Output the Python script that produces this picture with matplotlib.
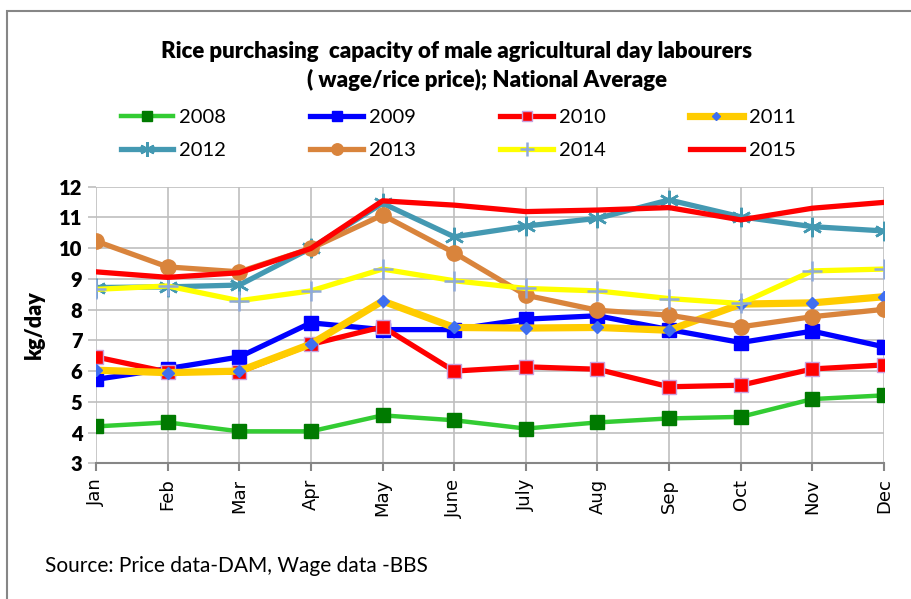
import matplotlib.pyplot as plt
from matplotlib.patches import Rectangle

months = ["Jan", "Feb", "Mar", "Apr", "May", "June", "July", "Aug", "Sep", "Oct", "Nov", "Dec"]

y2008 = [4.20, 4.33, 4.04, 4.04, 4.56, 4.40, 4.13, 4.33, 4.46, 4.51, 5.09, 5.21]
y2009 = [5.73, 6.08, 6.46, 7.57, 7.35, 7.35, 7.69, 7.80, 7.35, 6.93, 7.30, 6.79]
y2010 = [6.46, 5.97, 5.97, 6.87, 7.44, 6.00, 6.14, 6.06, 5.49, 5.54, 6.07, 6.20]
y2011 = [6.03, 5.95, 6.00, 6.88, 8.28, 7.42, 7.40, 7.42, 7.33, 8.18, 8.22, 8.42]
y2012 = [8.72, 8.74, 8.80, 10.00, 11.46, 10.37, 10.72, 10.97, 11.57, 11.02, 10.70, 10.56]
y2013 = [10.23, 9.39, 9.23, 9.99, 11.08, 9.85, 8.47, 7.98, 7.82, 7.44, 7.77, 8.01]
y2014 = [8.66, 8.77, 8.29, 8.61, 9.32, 8.94, 8.69, 8.61, 8.36, 8.20, 9.26, 9.32]
y2015 = [9.23, 9.05, 9.20, 9.99, 11.54, 11.40, 11.19, 11.24, 11.32, 10.92, 11.30, 11.49]

txt_font = ["Lato", "DejaVu Sans"]

fig = plt.figure(figsize=(9.11, 5.99), dpi=100)
ax = fig.add_axes([96 / 911, 1 - 463.3 / 599, 788 / 911, 276.6 / 599])

x = list(range(len(months)))

ax.plot(x, y2008, color="#33CC33", lw=3.2, marker="s", ms=9.5,
        mfc="#007A00", mec="#007A00", label="2008")
ax.plot(x, y2009, color="#0000FF", lw=3.8, marker="s", ms=10,
        mfc="#0000FF", mec="#0000FF", label="2009")
ax.plot(x, y2010, color="#FF0000", lw=3.8, marker="s", ms=9.5,
        mfc="#FF0000", mec="#C8A0DC", mew=1.0, label="2010")
ax.plot(x, y2011, color="#FFCC00", lw=5.2, marker="D", ms=6,
        mfc="#3F6FF0", mec="#3F6FF0", label="2011")
ax.plot(x, y2012, color="#4499B2", lw=3.8, marker=(6, 2, 0), ms=14,
        mfc="#4499B2", mec="#4499B2", mew=1.8, label="2012")
ax.plot(x, y2013, color="#D9843C", lw=3.8, marker="o", ms=11,
        mfc="#D9843C", mec="#D9843C", label="2013")
ax.plot(x, y2014, color="#FFFF00", lw=3.8, marker="+", ms=14,
        mec="#8EA9DB", mew=1.8, label="2014")
ax.plot(x, y2015, color="#FF0000", lw=3.8, label="2015")

ax.set_xlim(0, 11)
ax.set_ylim(3, 12)
ax.set_yticks(range(3, 13))
ax.set_xticks(x)
ax.set_xticklabels(months, rotation=90, fontsize=13, family="DejaVu Sans")
for lab in ax.get_yticklabels():
    lab.set_fontweight("heavy")
    lab.set_fontsize(14.5)
    lab.set_family(txt_font)

ax.grid(True, color="#BFBFBF", lw=1.2)
ax.set_axisbelow(True)
for side in ["top", "right", "left"]:
    ax.spines[side].set_visible(False)
ax.spines["bottom"].set_color("#868686")
ax.spines["bottom"].set_linewidth(1.5)
ax.tick_params(axis="y", length=5.8, color="#BFBFBF", width=1.2, pad=4)
ax.tick_params(axis="x", length=6, color="#868686", width=1.5, pad=5)
for t in ax.get_xticklabels():
    t.set_verticalalignment("top")

ax.set_ylabel("kg/day", fontsize=15.5, fontweight="heavy", family=txt_font, labelpad=10)

fig.text(457 / 911, 1 - 52 / 599, "Rice purchasing  capacity of male agricultural day labourers",
         ha="center", va="center", fontsize=16, fontweight="heavy", family=txt_font)
fig.text(487 / 911, 1 - 80 / 599, "( wage/rice price); National Average",
         ha="center", va="center", fontsize=16, fontweight="heavy", family=txt_font)

handles, labels = ax.get_legend_handles_labels()
order = [0, 4, 1, 5, 2, 6, 3, 7]
fig.legend([handles[i] for i in order], [labels[i] for i in order],
           ncol=4, loc="center", bbox_to_anchor=(458 / 911, 1 - 134 / 599),
           frameon=False, prop={"family": txt_font, "size": 14.5},
           handlelength=2.6, columnspacing=4.2, handletextpad=0.3,
           labelspacing=0.75, markerscale=0.75)

fig.text(45 / 911, 1 - 566 / 599, "Source: Price data-DAM, Wage data -BBS",
         ha="left", va="center", fontsize=15, family=txt_font)

fig.patches.append(Rectangle((7 / 911, -0.1), 1.2, 1 - 11 / 599 + 0.1,
                             transform=fig.transFigure, fill=False,
                             edgecolor="#868686", lw=1.5, figure=fig))

fig.savefig("out.png", dpi=100)
